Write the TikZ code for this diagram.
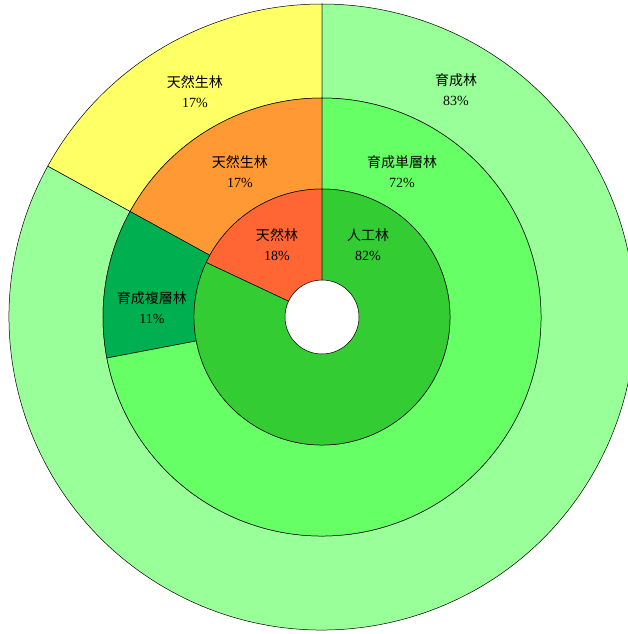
\documentclass[tikz,border=0pt]{standalone}
\usepackage{fontspec}
\setmainfont{Liberation Serif}
\newfontfamily\cjk{Noto Sans CJK JP}
\usepackage{tikz}

\definecolor{outergreen}{HTML}{99FF99}
\definecolor{midgreen}{HTML}{66FF66}
\definecolor{innergreen}{HTML}{33CC33}
\definecolor{darkgreen}{HTML}{00B050}
\definecolor{redorange}{HTML}{FF6633}
\definecolor{orangeish}{HTML}{FF9933}
\definecolor{yellowish}{HTML}{FFFF66}

\tikzset{
    sector/.style={draw=black, line width=0.5pt},
    piece/.style={align=center, font=\fontsize{14}{20}\selectfont}}

% ring piece: inner radius, outer radius, start angle, end angle
\newcommand{\sunpiece}[5]{%
    \filldraw[sector, fill=#5] (#3:#1pt) -- (#3:#2pt)
        arc[start angle=#3, end angle=#4, radius=#2pt] -- (#4:#1pt)
        arc[start angle=#4, end angle=#3, radius=#1pt] -- cycle;}

\begin{document}
\begin{tikzpicture}[x=1pt, y=1pt]

            \clip (-322,-317) rectangle (306,317);
            \useasboundingbox (-322,-317) rectangle (306,317);

            % outer ring
            \sunpiece{219}{313}{90}{151.2}{yellowish}
            \sunpiece{219}{313}{151.2}{450}{outergreen}
            % middle ring
            \sunpiece{128}{219}{90}{151.2}{orangeish}
            \sunpiece{128}{219}{151.2}{190.8}{darkgreen}
            \sunpiece{128}{219}{190.8}{450}{midgreen}
            % inner ring
            \sunpiece{37}{128}{90}{154.8}{redorange}
            \sunpiece{37}{128}{154.8}{450}{innergreen}

            \node[piece] (natouter) at (-127,225) {{\cjk 天然生林}\\17\%};
            \node[piece] (plantouter) at (134,227) {{\cjk 育成林}\\83\%};
            \node[piece] (natmid) at (-82,145) {{\cjk 天然生林}\\17\%};
            \node[piece] (single) at (80,145) {{\cjk 育成単層林}\\72\%};
            \node[piece] (multi) at (-170,9) {{\cjk 育成複層林}\\11\%};
            \node[piece] (natinner) at (-45,72) {{\cjk 天然林}\\18\%};
            \node[piece] (artinner) at (46,72) {{\cjk 人工林}\\82\%};

        \end{tikzpicture}
\end{document}
